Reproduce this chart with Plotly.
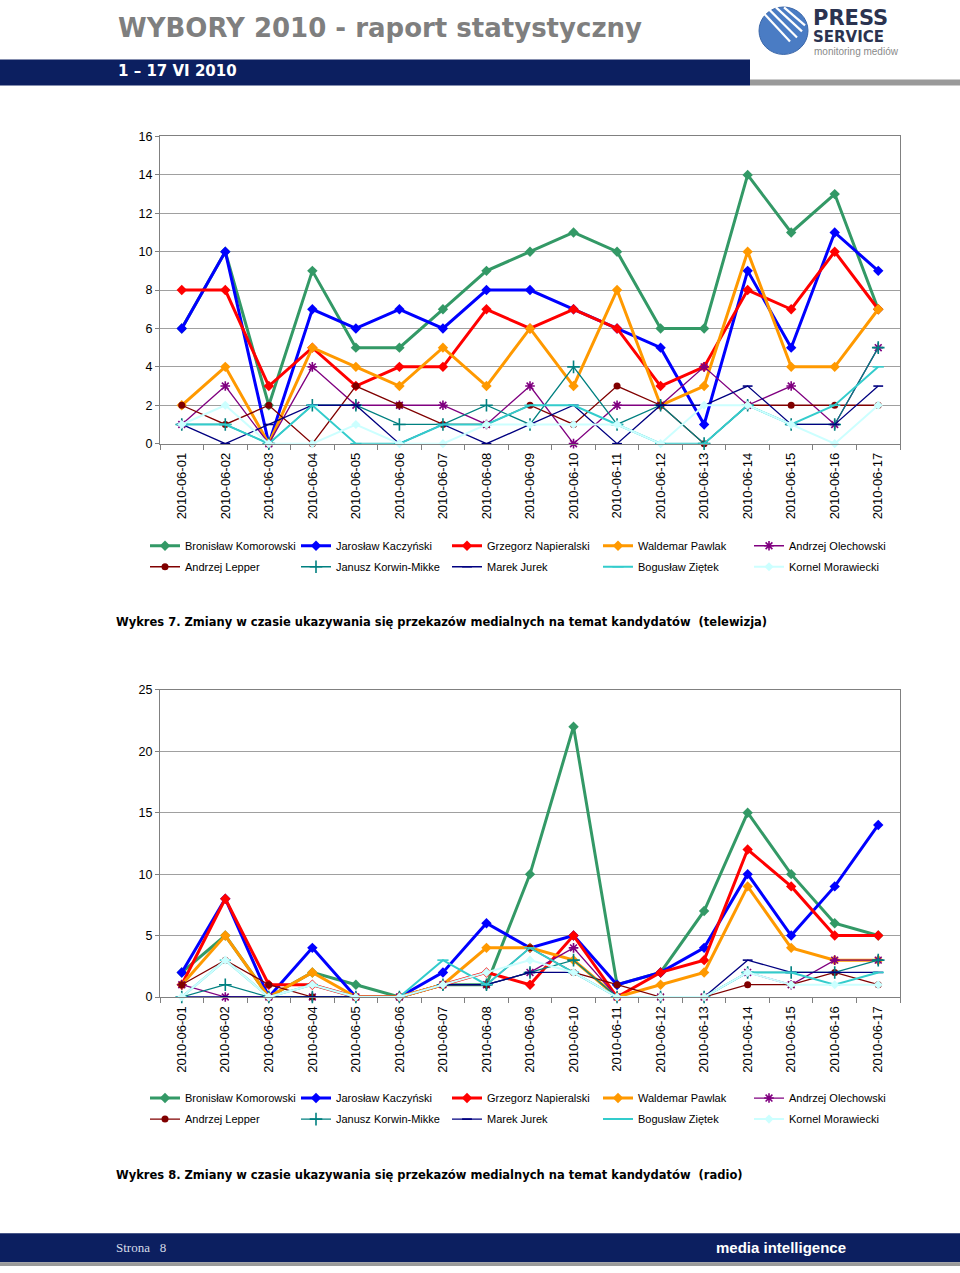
import plotly.graph_objects as go

W, H = 960, 1273
# the rendered page is placed with a small vertical inset; positions below are
# given in reference pixels and mapped onto the paper accordingly
Y_OFF, Y_SCALE = 7.6, 0.9884


def px(x):
    return x / W


def py(y):
    v = 1 - ((y - Y_OFF) / Y_SCALE) / H
    return min(1.0, max(0.0, v))


# ---------------- data ----------------
dates = ["2010-06-01", "2010-06-02", "2010-06-03", "2010-06-04", "2010-06-05",
         "2010-06-06", "2010-06-07", "2010-06-08", "2010-06-09", "2010-06-10",
         "2010-06-11", "2010-06-12", "2010-06-13", "2010-06-14", "2010-06-15",
         "2010-06-16", "2010-06-17"]

candidates = ["Bronisław Komorowski", "Jarosław Kaczyński", "Grzegorz Napieralski",
              "Waldemar Pawlak", "Andrzej Olechowski", "Andrzej Lepper",
              "Janusz Korwin-Mikke", "Marek Jurek", "Bogusław Ziętek", "Kornel Morawiecki"]

# Wykres 7 - telewizja
tv_komorowski = [6, 10, 2, 9, 5, 5, 7, 9, 10, 11, 10, 6, 6, 14, 11, 13, 7]
tv_kaczynski = [6, 10, 0, 7, 6, 7, 6, 8, 8, 7, 6, 5, 1, 9, 5, 11, 9]
tv_napieralski = [8, 8, 3, 5, 3, 4, 4, 7, 6, 7, 6, 3, 4, 8, 7, 10, 7]
tv_pawlak = [2, 4, 0, 5, 4, 3, 5, 3, 6, 3, 8, 2, 3, 10, 4, 4, 7]
tv_olechowski = [1, 3, 0, 4, 2, 2, 2, 1, 3, 0, 2, 2, 4, 2, 3, 1, 5]
tv_lepper = [2, 1, 2, 0, 3, 2, 1, 1, 2, 1, 3, 2, 0, 2, 2, 2, 2]
tv_korwin = [1, 1, 0, 2, 2, 1, 1, 2, 1, 4, 1, 2, 0, 2, 1, 1, 5]
tv_jurek = [1, 0, 1, 2, 2, 0, 1, 0, 1, 2, 0, 2, 2, 3, 1, 1, 3]
tv_zietek = [1, 1, 0, 2, 0, 0, 1, 1, 2, 2, 1, 0, 0, 2, 1, 2, 4]
tv_morawiecki = [1, 2, 0, 0, 1, 0, 0, 1, 1, 1, 1, 0, 2, 2, 1, 0, 2]

# Wykres 8 - radio
radio_komorowski = [2, 5, 0, 2, 1, 0, 1, 1, 10, 22, 1, 2, 7, 15, 10, 6, 5]
radio_kaczynski = [2, 8, 0, 4, 0, 0, 2, 6, 4, 5, 1, 2, 4, 10, 5, 9, 14]
radio_napieralski = [1, 8, 1, 1, 0, 0, 1, 2, 1, 5, 0, 2, 3, 12, 9, 5, 5]
radio_pawlak = [1, 5, 0, 2, 0, 0, 1, 4, 4, 3, 0, 1, 2, 9, 4, 3, 3]
radio_olechowski = [1, 0, 0, 0, 0, 0, 1, 1, 2, 4, 0, 0, 0, 2, 1, 3, 3]
radio_lepper = [1, 3, 1, 0, 0, 0, 1, 1, 4, 2, 1, 0, 0, 1, 1, 2, 1]
radio_korwin = [0, 1, 0, 0, 0, 0, 1, 1, 2, 3, 0, 0, 0, 2, 2, 2, 3]
radio_jurek = [0, 0, 0, 0, 0, 0, 1, 1, 2, 2, 0, 0, 0, 3, 2, 2, 2]
radio_zietek = [0, 3, 0, 1, 0, 0, 3, 1, 4, 2, 0, 0, 0, 2, 2, 1, 2]
radio_morawiecki = [0, 3, 0, 1, 0, 0, 1, 2, 3, 2, 0, 0, 0, 2, 1, 1, 1]

tv_series = [tv_komorowski, tv_kaczynski, tv_napieralski, tv_pawlak, tv_olechowski,
             tv_lepper, tv_korwin, tv_jurek, tv_zietek, tv_morawiecki]
radio_series = [radio_komorowski, radio_kaczynski, radio_napieralski, radio_pawlak,
                radio_olechowski, radio_lepper, radio_korwin, radio_jurek,
                radio_zietek, radio_morawiecki]

# ---------------- styles ----------------
colors = ["#339966", "#0000FF", "#FF0000", "#FF9900", "#800080",
          "#800000", "#008080", "#000080", "#33CCCC", "#CCFFFF"]
line_widths = [3, 3, 3, 3, 1.3, 1.3, 1.3, 1.3, 2, 2]
symbols = ["diamond", "diamond", "diamond", "diamond", "asterisk-open",
           "circle", "cross-thin-open", "line-ew-open", "line-ew-open", "diamond"]
sizes = [8, 8, 8, 8, 8, 7, 9, 7, 8, 7]

FONT = "Arial, Liberation Sans, sans-serif"
WIDE = "DejaVu Sans, Verdana, sans-serif"

fig = go.Figure()


def add_chart(series, xa, ya, leg_a, leg_b):
    for i, vals in enumerate(series):
        sym = symbols[i]
        open_sym = sym.endswith("open")
        fig.add_trace(go.Scatter(
            x=dates, y=vals, name=candidates[i], mode="lines+markers",
            xaxis=xa, yaxis=ya,
            legend=leg_a if i < 5 else leg_b,
            line=dict(color=colors[i], width=line_widths[i]),
            marker=dict(symbol=sym, size=sizes[i], color=colors[i],
                        line=dict(color=colors[i], width=1.6 if open_sym else 0)),
            cliponaxis=False,
        ))


add_chart(tv_series, "x", "y", "legend", "legend2")
add_chart(radio_series, "x2", "y2", "legend3", "legend4")

axis_common_x = dict(
    type="category", range=[-0.5, 16.5], tickson="boundaries", ticks="outside",
    ticklen=5, tickcolor="#808080", tickangle=-90, showgrid=False,
    ticklabelstandoff=3,
    showline=True, linecolor="#808080", linewidth=1, mirror=True,
    tickfont=dict(family=FONT, size=13, color="#000000"), fixedrange=True,
)
axis_common_y = dict(
    ticks="outside", ticklen=4, tickcolor="#808080", showgrid=True,
    gridcolor="#a0a0a0", gridwidth=1, zeroline=False, showline=True,
    linecolor="#808080", linewidth=1, mirror=True,
    tickfont=dict(family=FONT, size=12.5, color="#000000"), fixedrange=True,
)

fig.update_layout(
    xaxis=dict(domain=[px(160), px(900)], anchor="y", **axis_common_x),
    yaxis=dict(domain=[py(444), py(137)], anchor="x", range=[0, 16], dtick=2,
               **axis_common_y),
    xaxis2=dict(domain=[px(160), px(900)], anchor="y2", **axis_common_x),
    yaxis2=dict(domain=[py(997), py(690)], anchor="x2", range=[0, 25], dtick=5,
                **axis_common_y),
)

leg_common = dict(orientation="h", xanchor="left", yanchor="middle",
                  entrywidth=106, entrywidthmode="pixels",
                  font=dict(family=FONT, size=11, color="#000000"),
                  bgcolor="rgba(0,0,0,0)", borderwidth=0, tracegroupgap=0,
                  itemclick=False, itemdoubleclick=False)
fig.update_layout(
    legend=dict(x=px(145), y=py(546), **leg_common),
    legend2=dict(x=px(145), y=py(567), **leg_common),
    legend3=dict(x=px(145), y=py(1098), **leg_common),
    legend4=dict(x=px(145), y=py(1119), **leg_common),
)

NAVY = "#0c1f60"
shapes = [
    # header navy bar + gray bar
    dict(type="rect", xref="paper", yref="paper", x0=px(0), x1=px(750),
         y0=py(86), y1=py(60), fillcolor=NAVY, line=dict(width=0), layer="below"),
    dict(type="rect", xref="paper", yref="paper", x0=px(750), x1=px(960),
         y0=py(86), y1=py(80), fillcolor="#9a9a9a", line=dict(width=0), layer="below"),
    # footer
    dict(type="rect", xref="paper", yref="paper", x0=px(0), x1=px(960),
         y0=py(1262), y1=py(1233), fillcolor=NAVY, line=dict(width=0), layer="below"),
    dict(type="rect", xref="paper", yref="paper", x0=px(0), x1=px(960),
         y0=py(1273), y1=py(1262), fillcolor="#9a9a9a", line=dict(width=0), layer="below"),
    # logo circle
    dict(type="circle", xref="paper", yref="paper", x0=px(759), x1=px(808),
         y0=py(55), y1=py(6), fillcolor="#4a7cc4", line=dict(color="#3a66a8", width=1),
         layer="below"),
]
# logo stripes
for (x0, y0, x1, y1) in [(764, 14, 790, 42), (769, 10, 797, 38), (776, 8, 802, 32), (784, 8, 805, 26)]:
    shapes.append(dict(type="line", xref="paper", yref="paper", x0=px(x0), y0=py(y0),
                       x1=px(x1), y1=py(y1), line=dict(color="#ffffff", width=2.2)))
fig.update_layout(shapes=shapes)

annotations = [
    dict(text="<b>WYBORY 2010 - raport statystyczny</b>", x=px(116), y=py(29),
         font=dict(family=WIDE, size=26, color="#7f7f7f")),
    dict(text="<b>1 – 17 VI 2010</b>", x=px(116), y=py(72),
         font=dict(family=WIDE, size=15, color="#ffffff")),
    dict(text="<b>PRESS</b>", x=px(811), y=py(19),
         font=dict(family=WIDE, size=21, color="#2b3350")),
    dict(text="<b>SERVICE</b>", x=px(811), y=py(38),
         font=dict(family=WIDE, size=15, color="#2b3350")),
    dict(text="monitoring mediów", x=px(812), y=py(52.5),
         font=dict(family=FONT, size=10, color="#8a8a8a")),
    dict(text="<b>Wykres 7. Zmiany w czasie ukazywania się przekazów medialnych na temat kandydatów  (telewizja)</b>",
         x=px(114), y=py(622), font=dict(family=WIDE, size=11.5, color="#000000")),
    dict(text="<b>Wykres 8. Zmiany w czasie ukazywania się przekazów medialnych na temat kandydatów  (radio)</b>",
         x=px(114), y=py(1175), font=dict(family=WIDE, size=11.5, color="#000000")),
    dict(text="Strona   8", x=px(114), y=py(1247),
         font=dict(family="Liberation Serif, Times New Roman, serif", size=13, color="#d8dce8")),
    dict(text="<b>media intelligence</b>", x=px(714), y=py(1247),
         font=dict(family=FONT, size=15, color="#ffffff")),
]
for a in annotations:
    a.update(xref="paper", yref="paper", xanchor="left", yanchor="middle",
             showarrow=False)
fig.update_layout(annotations=annotations)

fig.update_layout(
    width=W, height=H, autosize=False,
    margin=dict(l=0, r=0, t=0, b=0, pad=0),
    paper_bgcolor="#ffffff", plot_bgcolor="#ffffff",
    font=dict(family=FONT, size=12, color="#000000"),
    hovermode=False,
)

fig.write_html(
    "out.html", config={"displayModeBar": False},
    post_script=("document.documentElement.style.margin='0';"
                 "document.body.style.margin='0';"
                 "document.body.style.overflow='hidden';"),
)
